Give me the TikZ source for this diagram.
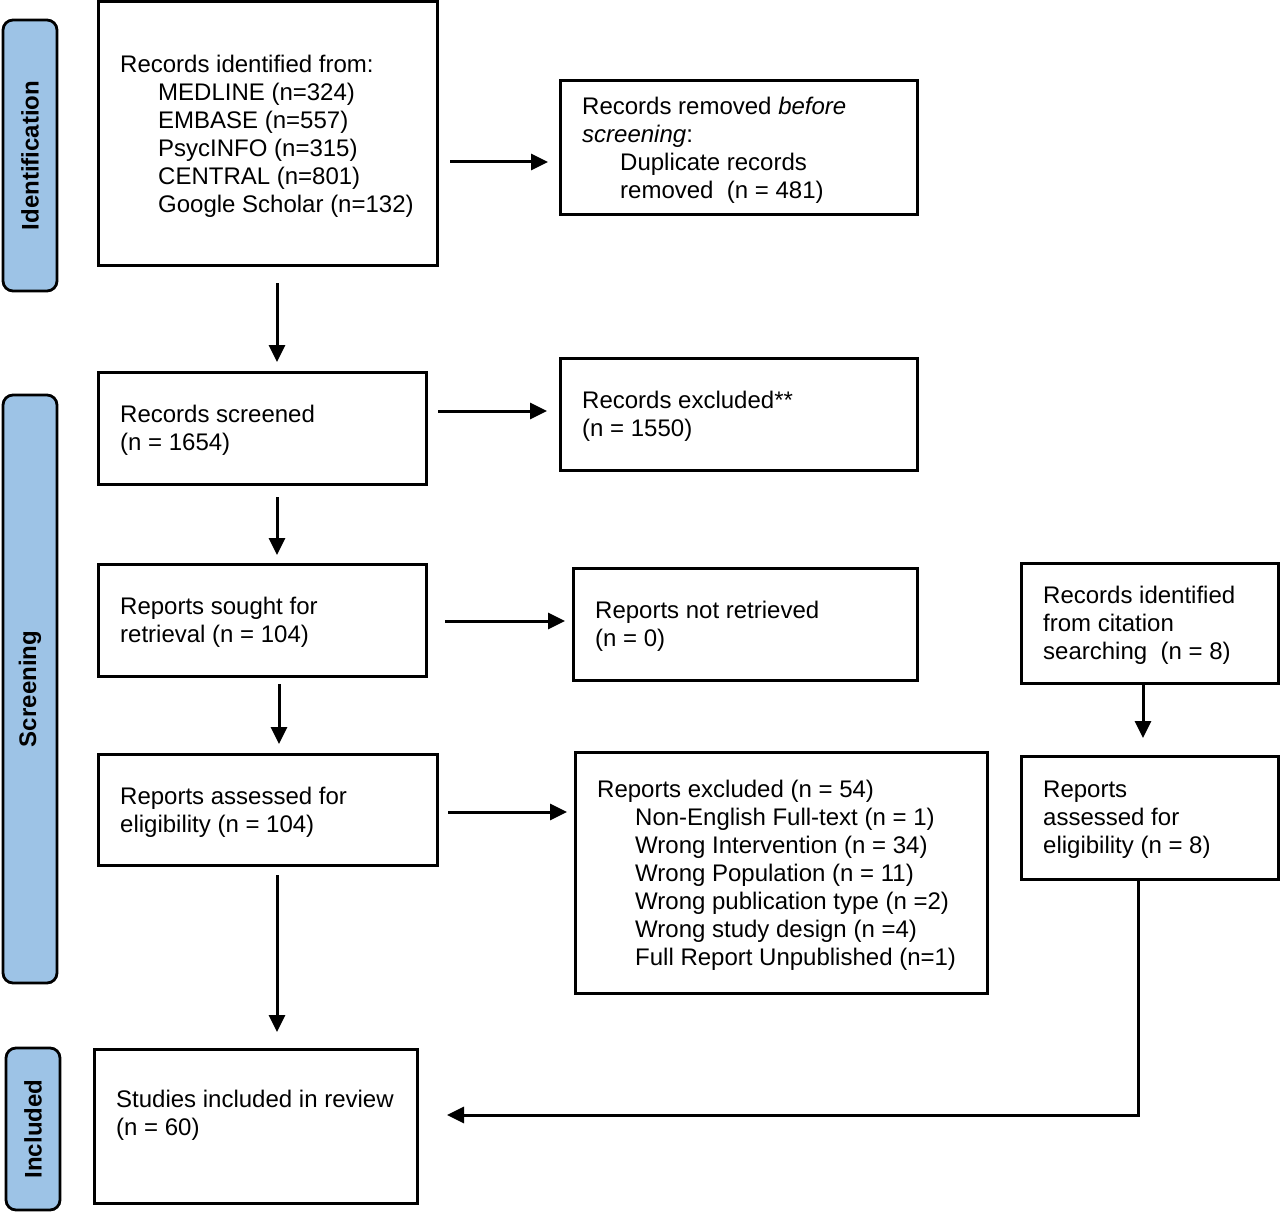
\documentclass[tikz,border=0pt]{standalone}
\usepackage{fontspec}
\setmainfont{Liberation Sans}
\usetikzlibrary{arrows.meta,calc}
\definecolor{barblue}{RGB}{157,195,230}
\begin{document}
\begin{tikzpicture}[x=1pt,y=-1pt,
  box/.style={draw=black, line width=3pt, rectangle, inner sep=0pt, outer sep=0pt},
  txt/.style={anchor=west, align=left, inner sep=0pt, font=\fontsize{24}{28}\selectfont},
  bar/.style={draw=black, fill=barblue, line width=2.8pt, rounded corners=10pt, inner sep=0pt, outer sep=0pt, font=\fontsize{24}{28}\selectfont\bfseries},
  arr/.style={line width=3pt, -{Triangle[length=17pt,width=16pt]}}]
\useasboundingbox (0,0) rectangle (1280,1212);
% side bars
\node[bar, minimum width=271pt, minimum height=54pt, rotate=90] (s1) at (30,155.5) {Identification};
\node[bar, minimum width=588pt, minimum height=54pt, rotate=90] (s2) at (30,689) {Screening};
\node[bar, minimum width=162pt, minimum height=54pt, rotate=90] (s3) at (33,1129) {Included};
% boxes
\node[box, minimum width=339pt, minimum height=263pt] (b1) at (267.5,133.5) {};
\node[box, minimum width=357pt, minimum height=133pt] (b2) at (738.5,147.5) {};
\node[box, minimum width=328pt, minimum height=112pt] (b3) at (262,428) {};
\node[box, minimum width=357pt, minimum height=112pt] (b4) at (738.5,414) {};
\node[box, minimum width=328pt, minimum height=112pt] (b5) at (262,620) {};
\node[box, minimum width=344pt, minimum height=112pt] (b6) at (745,624) {};
\node[box, minimum width=257pt, minimum height=120pt] (b7) at (1149.5,623) {};
\node[box, minimum width=339pt, minimum height=111pt] (b8) at (267.5,809.5) {};
\node[box, minimum width=412pt, minimum height=241pt] (b9) at (781,872.5) {};
\node[box, minimum width=257pt, minimum height=123pt] (b10) at (1149.5,817.5) {};
\node[box, minimum width=323pt, minimum height=154pt] (b11) at (255.5,1126) {};
% texts
\node[txt] (t1) at ([xshift=22pt,yshift=-2.5pt]b1.west) {Records identified from:\\
\hspace*{38pt}MEDLINE (n=324)\\
\hspace*{38pt}EMBASE (n=557)\\
\hspace*{38pt}PsycINFO (n=315)\\
\hspace*{38pt}CENTRAL (n=801)\\
\hspace*{38pt}Google Scholar (n=132)};
\node[txt] (t2) at ([xshift=22pt,yshift=-2.5pt]b2.west) {Records removed \textit{before}\\
\textit{screening}:\\
\hspace*{38pt}Duplicate records\\
\hspace*{38pt}removed\ \ (n = 481)};
\node[txt] (t3) at ([xshift=22pt,yshift=-2.5pt]b3.west) {Records screened\\(n = 1654)};
\node[txt] (t4) at ([xshift=22pt,yshift=-2.5pt]b4.west) {Records excluded**\\(n = 1550)};
\node[txt] (t5) at ([xshift=22pt,yshift=-2.5pt]b5.west) {Reports sought for\\retrieval (n = 104)};
\node[txt] (t6) at ([xshift=22pt,yshift=-2.5pt]b6.west) {Reports not retrieved\\(n = 0)};
\node[txt] (t7) at ([xshift=22pt,yshift=-2.5pt]b7.west) {Records identified\\from citation\\searching\ \ (n = 8)};
\node[txt] (t8) at ([xshift=22pt,yshift=-2.5pt]b8.west) {Reports assessed for\\eligibility (n = 104)};
\node[txt] (t9) at ([xshift=22pt,yshift=-2.5pt]b9.west) {Reports excluded (n = 54)\\
\hspace*{38pt}Non-English Full-text (n = 1)\\
\hspace*{38pt}Wrong Intervention (n = 34)\\
\hspace*{38pt}Wrong Population (n = 11)\\
\hspace*{38pt}Wrong publication type (n =2)\\
\hspace*{38pt}Wrong study design (n =4)\\
\hspace*{38pt}Full Report Unpublished (n=1)};
\node[txt] (t10) at ([xshift=22pt,yshift=-2.5pt]b10.west) {Reports\\assessed for\\eligibility (n = 8)};
\node[txt] (t11) at ([xshift=22pt,yshift=10.5pt]b11.west) {Studies included in review\\(n = 60)};
% arrows
\draw[arr, shorten <=13pt, shorten >=12pt] ([yshift=-28.5pt]b1.east) -- ([yshift=-28.5pt]b1.east -| b2.west);
\draw[arr, shorten <=18pt, shorten >=10pt] ([xshift=9.5pt]b1.south) -- ([xshift=9.5pt]b1.south |- b3.north);
\draw[arr, shorten <=12pt, shorten >=13pt] ([yshift=17pt]b3.east) -- ([yshift=17pt]b3.east -| b4.west);
\draw[arr, shorten <=13pt, shorten >=9pt] ([xshift=15pt]b3.south) -- ([xshift=15pt]b3.south |- b5.north);
\draw[arr, shorten <=19pt, shorten >=8pt] ([yshift=-1pt]b5.east) -- ([yshift=-1pt]b5.east -| b6.west);
\draw[arr, shorten <=8pt, shorten >=10pt] ([xshift=17pt]b5.south) -- ([xshift=17pt]b5.south |- b8.north);
\draw[arr, shorten <=11pt, shorten >=8pt] ([yshift=-2.5pt]b8.east) -- ([yshift=-2.5pt]b8.east -| b9.west);
\draw[arr, shorten <=10pt, shorten >=17pt] ([xshift=9.5pt]b8.south) -- ([xshift=9.5pt]b8.south |- b11.north);
\draw[arr, shorten >=18pt] ([xshift=-6.5pt]b7.south) -- ([xshift=-6.5pt]b7.south |- b10.north);
\draw[arr, shorten >=30pt] ([xshift=-11.5pt]b10.south) |- ([yshift=11pt]b11.east);
\end{tikzpicture}
\end{document}
